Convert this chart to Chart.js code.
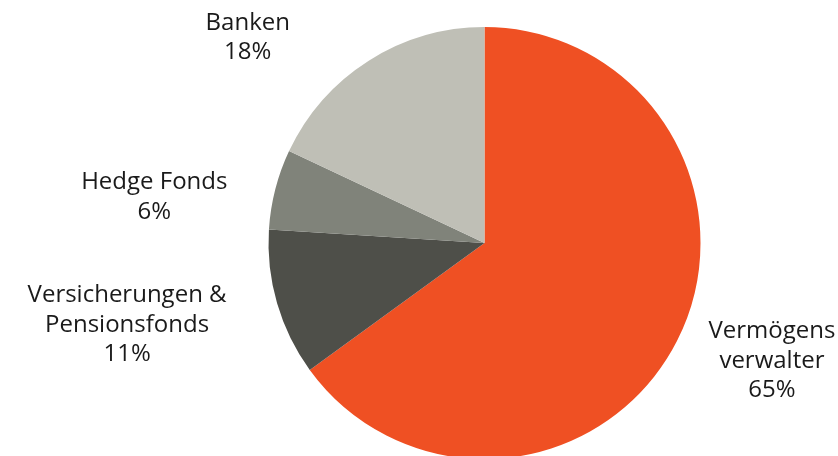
<!DOCTYPE html>
<html>
<head>
<meta charset="utf-8">
<script src="https://cdn.jsdelivr.net/npm/chart.js@4"></script>
<style>
html,body{margin:0;padding:0;background:#fff;overflow:hidden;width:838px;height:456px;}
#wrap{position:absolute;left:0;top:0;width:838px;height:486px;}
</style>
</head>
<body>
<div id="wrap"><canvas id="c" width="838" height="486"></canvas></div>
<script>
const categories = ["Vermögens\nverwalter", "Versicherungen &\nPensionsfonds", "Hedge Fonds", "Banken"];
const shares = [65, 11, 6, 18];
const colors = ["#EF5023", "#4E4F49", "#80837A", "#BFBFB6"];
// label offsets (px) from the outer mid-point of each slice: [dx, dy of first baseline]
const labelOffsets = [[95, -3], [-150, -1], [-121, 0], [-121, -31]];

const labelPlugin = {
  id: 'outLabels',
  afterDatasetsDraw(chart) {
    const ctx = chart.ctx;
    const meta = chart.getDatasetMeta(0);
    ctx.save();
    ctx.font = '24px "Open Sans"';
    ctx.fillStyle = '#1a1a1a';
    ctx.textAlign = 'center';
    ctx.textBaseline = 'alphabetic';
    meta.data.forEach((arc, i) => {
      const p = arc.getProps(['x','y','startAngle','endAngle','outerRadius'], true);
      const mid = (p.startAngle + p.endAngle) / 2;
      const px = p.x + Math.cos(mid) * p.outerRadius;
      const py = p.y + Math.sin(mid) * p.outerRadius;
      const lines = categories[i].split('\n').concat([shares[i] + '%']);
      const [dx, dy] = labelOffsets[i];
      lines.forEach((ln, k) => {
        ctx.fillText(ln, px + dx, py + dy + k * 29.5);
      });
    });
    ctx.restore();
  }
};

new Chart(document.getElementById('c'), {
  type: 'pie',
  data: {
    labels: categories,
    datasets: [{
      data: shares,
      backgroundColor: colors,
      borderWidth: 0
    }]
  },
  options: {
    responsive: false,
    animation: false,
    layout: { padding: { left: 268.5, right: 137.5, top: 27, bottom: 27 } },
    plugins: { legend: { display: false }, tooltip: { enabled: false } }
  },
  plugins: [labelPlugin]
});
</script>
</body>
</html>
